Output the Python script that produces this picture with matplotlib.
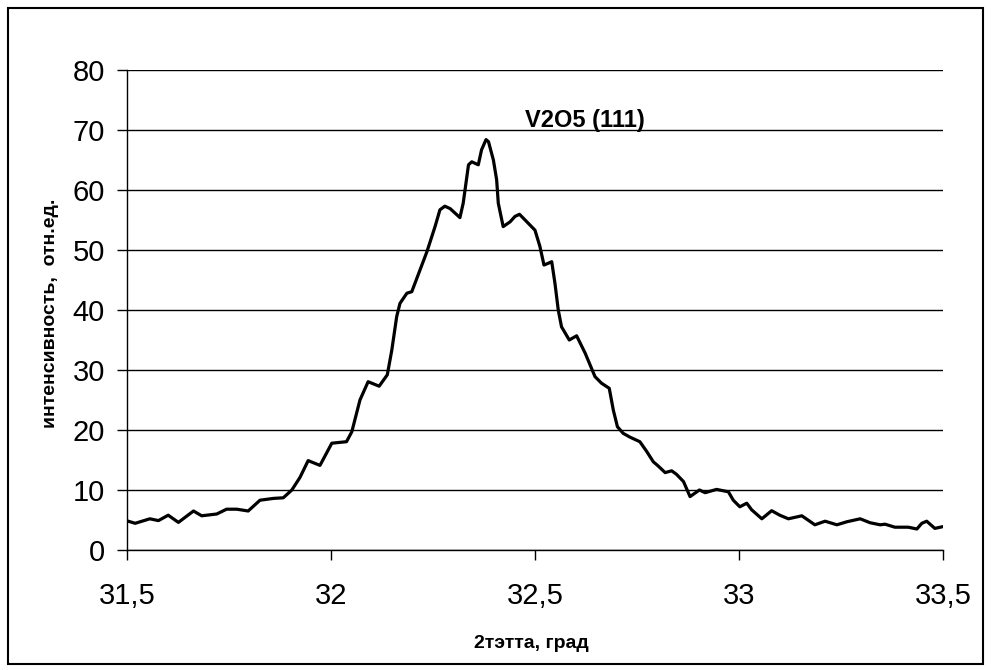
import matplotlib
matplotlib.use("Agg")
import matplotlib.pyplot as plt
from matplotlib.patches import Rectangle

two_theta = [31.503, 31.520, 31.556, 31.577, 31.601, 31.626, 31.663, 31.683, 31.720, 31.744,
             31.769, 31.797, 31.826, 31.859, 31.883, 31.904, 31.924, 31.944, 31.973, 32.002,
             32.038, 32.051, 32.071, 32.091, 32.118, 32.138, 32.149, 32.161, 32.169, 32.186,
             32.198, 32.235, 32.255, 32.267, 32.279, 32.292, 32.316, 32.324, 32.337, 32.345,
             32.361, 32.369, 32.380, 32.386, 32.398, 32.406, 32.410, 32.422, 32.439, 32.451,
             32.462, 32.480, 32.500, 32.512, 32.522, 32.533, 32.541, 32.549, 32.557, 32.565,
             32.584, 32.602, 32.623, 32.647, 32.663, 32.682, 32.692, 32.702, 32.716, 32.733,
             32.757, 32.774, 32.790, 32.802, 32.819, 32.835, 32.847, 32.864, 32.880, 32.903,
             32.917, 32.945, 32.974, 32.986, 33.002, 33.019, 33.031, 33.056, 33.080, 33.100,
             33.121, 33.154, 33.186, 33.211, 33.240, 33.264, 33.297, 33.321, 33.346, 33.358,
             33.382, 33.415, 33.436, 33.448, 33.460, 33.480, 33.500]
intensity = [4.8, 4.45, 5.2, 4.9, 5.8, 4.6, 6.5, 5.7, 6.0, 6.8,
             6.8, 6.5, 8.3, 8.6, 8.7, 10.0, 12.1, 14.9, 14.1, 17.8,
             18.05, 19.7, 25.0, 28.05, 27.3, 29.2, 33.3, 38.9, 41.1, 42.8,
             43.05, 49.7, 53.9, 56.7, 57.3, 56.9, 55.4, 57.8, 64.2, 64.7,
             64.2, 66.7, 68.4, 68.05, 65.0, 61.7, 57.8, 53.9, 54.7, 55.6,
             55.95, 54.7, 53.3, 50.6, 47.5, 47.8, 48.05, 44.4, 40.0, 37.2,
             35.0, 35.7, 32.8, 28.9, 27.8, 26.95, 23.3, 20.55, 19.45, 18.8,
             18.05, 16.4, 14.7, 14.0, 12.9, 13.2, 12.6, 11.4, 8.9, 10.0,
             9.55, 10.1, 9.7, 8.3, 7.2, 7.8, 6.7, 5.2, 6.55, 5.8,
             5.2, 5.7, 4.2, 4.8, 4.2, 4.7, 5.2, 4.55, 4.2, 4.3,
             3.8, 3.8, 3.5, 4.45, 4.8, 3.6, 3.9]

x_ticks = [31.5, 32.0, 32.5, 33.0, 33.5]
x_tick_labels = ["31,5", "32", "32,5", "33", "33,5"]
y_ticks = [0, 10, 20, 30, 40, 50, 60, 70, 80]
y_tick_labels = ["0", "10", "20", "30", "40", "50", "60", "70", "80"]

peak_label = "V2O5 (111)"
peak_pos = (32.623, 70.45)

plt.rcParams['font.family'] = ['Liberation Sans', 'DejaVu Sans']

fig = plt.figure(figsize=(9.91, 6.70), dpi=100)
ax = fig.add_axes([127/991, 1 - 550/670, (943-127)/991, 480/670])

ax.plot(two_theta, intensity, color='black', linewidth=2.3, solid_joinstyle='round')
ax.set_xlim(31.5, 33.5)
ax.set_ylim(0, 80)
ax.set_xticks(x_ticks)
ax.set_xticklabels(x_tick_labels)
ax.set_yticks(y_ticks)
ax.set_yticklabels(y_tick_labels)
ax.tick_params(axis='both', labelsize=21, direction='out', length=7, width=1.0, color='black')
ax.tick_params(axis='x', pad=16)
ax.tick_params(axis='y', pad=9)
ax.yaxis.grid(True, color='black', linewidth=1.0)
ax.set_axisbelow(True)
for s in ['top', 'right']:
    ax.spines[s].set_visible(False)
for s in ['left', 'bottom']:
    ax.spines[s].set_linewidth(1.0)
    ax.spines[s].set_color('black')

fig.text(531/991, 1 - 644/670, "2тэтта, град", fontsize=14, fontweight='bold',
         ha='center', va='center')
fig.text(51/991, 1 - 313/670, "интенсивность,  отн.ед.", fontsize=14, fontweight='bold',
         ha='center', va='center', rotation=90)

ax.text(peak_pos[0], peak_pos[1], peak_label, fontsize=17, fontweight='bold',
        ha='center', va='baseline')

fig.patches.append(Rectangle((8/991, 1 - 664/670), (983-8)/991, (664-8)/670,
                             transform=fig.transFigure, fill=False,
                             edgecolor='black', linewidth=1.5))

fig.savefig("out.png", dpi=100)
